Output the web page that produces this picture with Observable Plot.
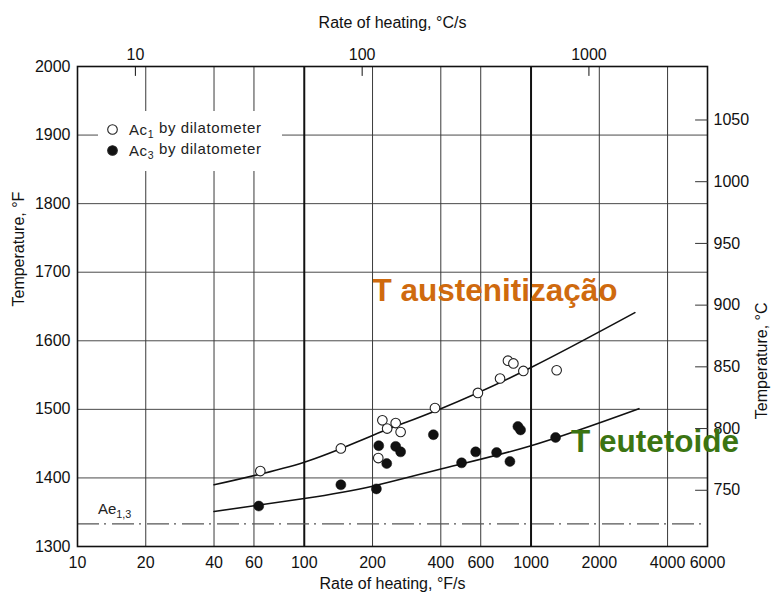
<!DOCTYPE html>
<html>
<head>
<meta charset="utf-8">
<script src="https://cdn.jsdelivr.net/npm/d3@7"></script>
<script src="https://cdn.jsdelivr.net/npm/@observablehq/plot@0.6"></script>
<style>
  body { margin: 0; background: #fff; }
  #chart { width: 779px; height: 607px; }
</style>
</head>
<body>
<div id="chart"></div>
<script>
// Ac1 measured by dilatometer (open symbols): heating rate °F/s, temperature °F
const ac1Rate = [64, 145, 221, 232, 212, 253, 266, 377, 583, 730, 791, 836, 925, 1297];
const ac1Temp = [1410, 1443, 1484, 1472, 1429, 1480, 1467, 1502, 1524, 1545, 1571, 1567, 1556, 1557];

// Ac3 measured by dilatometer (filled symbols)
const ac3Rate = [63, 145, 213, 231, 208, 253, 266, 371, 570, 494, 705, 807, 875, 899, 1283];
const ac3Temp = [1359, 1390, 1447, 1421, 1384, 1446, 1438, 1463, 1438, 1422, 1437, 1424, 1475, 1470, 1459];

// Fitted trend curves
const ac1FitRate = [40, 100, 200, 400, 1000, 2870];
const ac1FitTemp = [1390, 1423, 1462, 1501, 1561, 1641];
const ac3FitRate = [40, 100, 200, 400, 1000, 2990];
const ac3FitTemp = [1351, 1370, 1388, 1413, 1447, 1501];

// Equilibrium Ae1,3 temperature, °F
const ae13 = 1333;

// Axis ticks
const rateTicksF = [10, 20, 40, 60, 100, 200, 400, 600, 1000, 2000, 4000, 6000];
const rateTicksC = [10, 100, 1000];
const tempTicksF = [1300, 1400, 1500, 1600, 1700, 1800, 1900, 2000];
const tempTicksC = [750, 800, 850, 900, 950, 1000, 1050];
const minorGridRates = [20, 40, 60, 200, 400, 600, 2000, 4000];
const majorGridRates = [100, 1000];
const gridTemps = [1400, 1500, 1600, 1700, 1800, 1900];

// Annotations
const annotations = [
  {rate: 200, temp: 1672.5, label: "T austenitização", color: "#cf6a0e"},
  {rate: 1500, temp: 1452, label: "T eutetoide", color: "#3b7412"}
];
const aeLabel = [{rate: 12.3, temp: 1354, label: "Ae1,3"}];

const ac1 = ac1Rate.map((r, i) => ({rate: r, temp: ac1Temp[i]}));
const ac3 = ac3Rate.map((r, i) => ({rate: r, temp: ac3Temp[i]}));
const ac1Fit = ac1FitRate.map((r, i) => ({rate: r, temp: ac1FitTemp[i]}));
const ac3Fit = ac3FitRate.map((r, i) => ({rate: r, temp: ac3FitTemp[i]}));

// °C/s → °F/s and °C → °F for the secondary axes
const cRateAsF = rateTicksC.map(c => c * 1.8);
const cRateLabel = new Map(cRateAsF.map((f, i) => [f, String(rateTicksC[i])]));
const cTempAsF = tempTicksC.map(c => c * 1.8 + 32);
const cTempLabel = new Map(cTempAsF.map((f, i) => [f, String(tempTicksC[i])]));

const font = "'Liberation Sans', Arial, sans-serif";

// plain straight tick (no arrowhead) for the vector mark
const tickShape = {draw(context, l) { context.moveTo(0, 0); context.lineTo(0, -l); }};

const svg = Plot.plot({
  width: 779,
  height: 607,
  marginLeft: 77,
  marginRight: 72,
  marginTop: 66,
  marginBottom: 61,
  style: {fontFamily: font, fontSize: "16px", color: "#111", background: "#fff"},
  x: {type: "log", domain: [10, 6000], axis: null},
  y: {domain: [1300, 2000], axis: null},
  marks: [
    // grid
    Plot.ruleY(gridTemps, {stroke: "#4a4a4a", strokeWidth: 1}),
    Plot.ruleX(minorGridRates, {stroke: "#3a3a3a", strokeWidth: 1}),
    Plot.ruleX(majorGridRates, {stroke: "#111", strokeWidth: 2}),
    // Ae1,3 line
    Plot.ruleY([ae13], {stroke: "#555", strokeWidth: 1.2, strokeDasharray: "22,5,2,6"}),
    Plot.text(aeLabel, {x: "rate", y: "temp", text: "label", textAnchor: "start", fontSize: 15, fill: "#222"}),
    // fitted curves
    Plot.line(ac1Fit, {x: "rate", y: "temp", curve: "natural", stroke: "#111", strokeWidth: 1.6}),
    Plot.line(ac3Fit, {x: "rate", y: "temp", curve: "natural", stroke: "#111", strokeWidth: 1.6}),
    // measurements
    Plot.dot(ac1, {x: "rate", y: "temp", r: 4.8, fill: "#fff", stroke: "#222", strokeWidth: 1.1}),
    Plot.dot(ac3, {x: "rate", y: "temp", r: 5, fill: "#111", stroke: "#111", strokeWidth: 0.5}),
    // frame
    Plot.frame({stroke: "#111", strokeWidth: 1.6}),
    // inward ticks of the °C/s and °C scales
    Plot.vector(cRateAsF, {x: d => d, frameAnchor: "top", length: 9, rotate: 180, anchor: "start", shape: tickShape, stroke: "#111", strokeWidth: 1}),
    Plot.vector(cTempAsF, {y: d => d, frameAnchor: "right", length: 12, rotate: -90, anchor: "start", shape: tickShape, stroke: "#333", strokeWidth: 1}),
    // tick labels
    Plot.text(rateTicksF, {x: d => d, text: d => String(d), frameAnchor: "bottom", lineAnchor: "middle", dy: 16, fontSize: 16, fill: "#111"}),
    Plot.text(cRateAsF, {x: d => d, text: d => cRateLabel.get(d), frameAnchor: "top", lineAnchor: "middle", dy: -12, fontSize: 16, fill: "#111"}),
    Plot.text(tempTicksF, {y: d => d, text: d => String(d), frameAnchor: "left", textAnchor: "end", dx: -7, fontSize: 16, fill: "#111"}),
    Plot.text(cTempAsF, {y: d => d, text: d => cTempLabel.get(d), frameAnchor: "right", textAnchor: "start", dx: 6, fontSize: 16, fill: "#111"}),
    // axis titles
    Plot.text(["Rate of heating, °F/s"], {frameAnchor: "bottom", lineAnchor: "middle", dy: 37, fontSize: 16, fill: "#111"}),
    Plot.text(["Rate of heating, °C/s"], {frameAnchor: "top", lineAnchor: "middle", dy: -44, fontSize: 16, fill: "#111"}),
    Plot.text(["Temperature, °F"], {frameAnchor: "left", rotate: -90, dx: -59, fontSize: 16, fill: "#111"}),
    Plot.text(["Temperature, °C"], {frameAnchor: "right", rotate: -90, dx: 54, dy: -4, fontSize: 16, fill: "#111"}),
    // annotations
    Plot.text(annotations, {x: "rate", y: "temp", text: "label", fill: "color", textAnchor: "start", fontSize: 31.5, fontWeight: "bold"})
  ]
});

// subscript for the Ae1,3 label
d3.select(svg).selectAll("text").filter(function () { return this.textContent === "Ae1,3"; })
  .each(function () {
    const t = d3.select(this);
    t.text("Ae");
    t.append("tspan").attr("dy", "0.35em").attr("font-size", "0.72em").text("1,3");
  });

// legend
const lg = d3.select(svg).append("g")
  .attr("font-family", font).attr("text-anchor", "start")
  .attr("font-size", 15).attr("fill", "#222").attr("letter-spacing", "0.6px");
lg.append("rect").attr("x", 98).attr("y", 111).attr("width", 184).attr("height", 60).attr("fill", "#fff");
const rows = [
  {sub: "1", cy: 129.5, base: 134.5, fill: "#fff"},
  {sub: "3", cy: 150.5, base: 155.5, fill: "#111"}
];
rows.forEach(r => {
  lg.append("circle").attr("cx", 112.5).attr("cy", r.cy).attr("r", 4.8)
    .attr("fill", r.fill).attr("stroke", "#222").attr("stroke-width", 1.1);
  const t = lg.append("text").attr("x", 129).attr("y", r.base);
  t.append("tspan").text("Ac");
  t.append("tspan").attr("dy", "0.3em").attr("font-size", "0.7em").text(r.sub);
  t.append("tspan").attr("dy", "-0.3em").text(" by dilatometer");
});

document.getElementById("chart").appendChild(svg);
</script>
</body>
</html>
